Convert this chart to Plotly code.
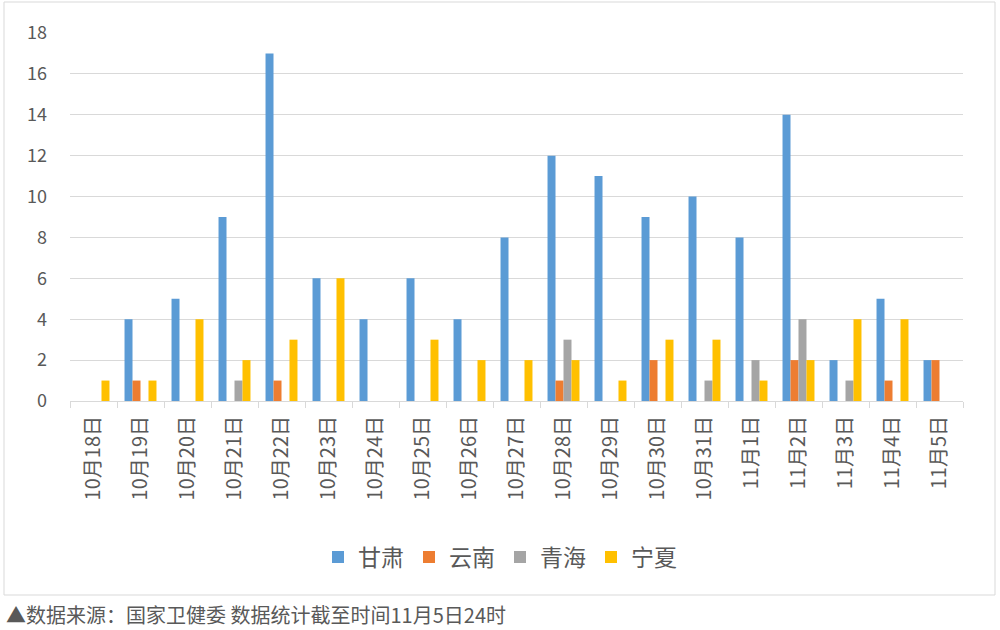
import plotly.graph_objects as go

categories = ["10月18日", "10月19日", "10月20日", "10月21日", "10月22日", "10月23日", "10月24日",
              "10月25日", "10月26日", "10月27日", "10月28日", "10月29日", "10月30日", "10月31日",
              "11月1日", "11月2日", "11月3日", "11月4日", "11月5日"]
gansu   = [0, 4, 5, 9, 17, 6, 4, 6, 4, 8, 12, 11, 9, 10, 8, 14, 2, 5, 2]
yunnan  = [0, 1, 0, 0, 1, 0, 0, 0, 0, 0, 1, 0, 2, 0, 0, 2, 0, 1, 2]
qinghai = [0, 0, 0, 1, 0, 0, 0, 0, 0, 0, 3, 0, 0, 1, 2, 4, 1, 0, 0]
ningxia = [1, 1, 4, 2, 3, 6, 0, 3, 2, 2, 2, 1, 3, 3, 1, 2, 4, 4, 0]

series = [("甘肃", gansu, "#5B9BD5"), ("云南", yunnan, "#ED7D31"),
          ("青海", qinghai, "#A5A5A5"), ("宁夏", ningxia, "#FFC000")]

FONT = "Noto Sans CJK SC, Noto Sans, sans-serif"

fig = go.Figure()
for name, vals, color in series:
    fig.add_trace(go.Bar(x=categories, y=vals, name=name, marker_color=color,
                         marker_line_width=0))

L, R, T, B = 70, 37, 33, 229
W, H = 1000, 630
pw, ph = W - L - R, H - T - B

def px(x):
    return (x - L) / pw

def py(y):
    return (H - B - y) / ph

fig.update_layout(
    width=W, height=H,
    margin=dict(l=L, r=R, t=T, b=B),
    paper_bgcolor="white", plot_bgcolor="white",
    barmode="group", bargap=0.32, bargroupgap=0,
    font=dict(family=FONT, color="#595959"),
    showlegend=True,
    legend=dict(orientation="h", x=px(500), xanchor="center", y=py(557), yanchor="middle",
                font=dict(size=23, color="#595959"), itemwidth=30,
                traceorder="normal"),
    xaxis=dict(type="category", tickangle=-90, tickfont=dict(size=20, color="#595959"),
               showline=True, linecolor="#D9D9D9", linewidth=1,
               ticks="outside", tickson="boundaries", ticklen=6, tickcolor="#D9D9D9",
               showgrid=False, ticklabelstandoff=6),
    yaxis=dict(range=[0, 18], dtick=2, tickfont=dict(size=18, color="#595959"),
               showgrid=True, gridcolor="#D9D9D9", gridwidth=1,
               zeroline=False, showline=False, ticks="", ticklabelstandoff=22),
    shapes=[dict(type="rect", xref="paper", yref="paper",
                 x0=px(4), x1=px(995), y0=py(595), y1=py(2),
                 line=dict(color="#D9D9D9", width=1), fillcolor="rgba(0,0,0,0)", layer="below")],
    annotations=[dict(text="▲数据来源：国家卫健委 数据统计截至时间11月5日24时",
                      xref="paper", yref="paper", x=px(4), y=py(614),
                      xanchor="left", yanchor="middle", showarrow=False,
                      font=dict(size=20, color="#595959", family=FONT))],
)

fig.write_html("out.html")
